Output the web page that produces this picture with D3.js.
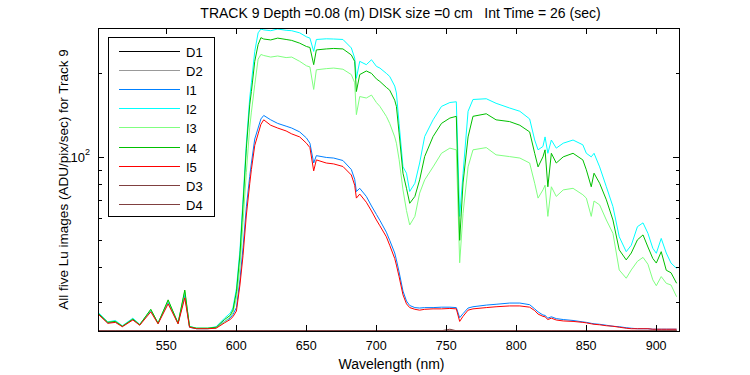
<!DOCTYPE html>
<html>
<head>
<meta charset="utf-8">
<script src="https://cdn.jsdelivr.net/npm/d3@7"></script>
<style>
body { margin:0; background:#fff; }
text { font-family: "Liberation Sans", Arial, sans-serif; }
</style>
</head>
<body>
<div id="chart"></div>
<script>
// size of SVG
var w = 750;
var h = 375;
// plot box, in pixels
var boxL = 98, boxR = 679, boxT = 28, boxB = 331;

// wavelength grid, nm (shared by every series)
var wavelength = [502, 508.6, 514, 519, 526.5, 531.4, 539.3, 544.5, 551.7, 558.8,
  563.6, 567, 572, 580, 586, 592, 596, 598, 600.5, 603,
  605.2, 607.6, 610, 611.2, 613.6, 616, 618, 620, 625, 630,
  636, 640, 645.7, 650.5, 653, 655.7, 657.6, 664.7, 670, 676.6,
  682.6, 685, 686.2, 688.6, 693.3, 697, 700.5, 703, 707.6, 710,
  713.6, 714.8, 716.7, 719.5, 722, 724.3, 728, 731.4, 735, 741,
  747, 753, 757.6, 760, 762.4, 766, 769.5, 779, 786, 795.7,
  803, 810, 813.6, 816, 819.5, 821, 823, 825.5, 829, 834,
  841, 848, 850.5, 854, 856, 860, 864.8, 869.5, 874, 879,
  882.6, 887, 891, 894.5, 898, 900.5, 904, 907.6, 911, 915];

// ADU/pix/sec
var I1 = [27.1, 25.2, 25.4, 24.5, 25.9, 24.8, 27.9, 25.1, 29.9, 25.1,
  31.8, 24.3, 24.0, 24.0, 24.2, 25.5, 26.2, 27.0, 28.6, 36,
  47, 66, 85, 95, 116, 127, 137, 141, 136, 132,
  129, 127, 123, 117, 112, 95, 101, 99.5, 99, 97,
  90, 83, 75, 77, 72, 66.5, 62, 59, 53.5, 50,
  45, 42.5, 38.5, 32.8, 30.2, 29.1, 28.6, 28.5, 28.6, 28.6,
  28.7, 28.7, 28.6, 26.3, 27.2, 28.5, 28.8, 29.2, 29.4, 29.7,
  29.7, 29.3, 28.3, 27.6, 26.9, 26.8, 26.2, 26.5, 26.1, 25.9,
  25.7, 25.4, 25.3, 25.1, 25.0, 24.9, 24.7, 24.5, 24.4, 24.2,
  24.1, 24.0, 24.0, 24.0, 23.9, 23.9, 23.9, 23.9, 23.9, 23.9];
var I2 = [27.4, 25.4, 25.7, 24.6, 26.2, 24.9, 28.0, 25.2, 30.2, 25.2,
  32.5, 24.5, 24.1, 24.1, 24.4, 26.2, 27.3, 28.5, 33.5, 46,
  70, 112, 163, 185, 240, 280, 289, 287, 285, 289,
  286, 285, 280, 271, 268, 240, 265, 266.5, 266, 265,
  247, 227, 192, 221, 215, 224, 212, 209, 200, 195,
  180, 170, 132, 92, 87.3, 75, 80.3, 95, 118.4, 136,
  152, 157, 158, 61, 87, 146, 161, 162, 156, 150,
  146, 137, 115, 106, 109, 118, 103, 115, 107.5, 112,
  115, 110.5, 103, 100, 103, 92, 78, 66.2, 51.5, 45.5,
  48, 56, 57.8, 53, 46.8, 44.9, 50.8, 45, 41.4, 39.6];
var I3 = [27.2, 25.3, 25.5, 24.5, 26.0, 24.8, 28.1, 25.1, 30.3, 25.1,
  32.8, 24.4, 24.1, 24.1, 24.2, 25.4, 26.5, 27.4, 31, 40,
  58, 88, 128, 145, 182, 225, 234, 232, 229, 231,
  228, 229, 221, 213, 211, 175, 206, 208, 209, 207,
  198, 185, 142, 165, 163, 167, 157, 152, 140, 132,
  118, 112, 98, 76, 64, 56.8, 61, 74, 82.6, 92,
  103, 107.5, 106, 41.5, 62.5, 92, 106, 108, 101.7, 100.2,
  99, 95, 80.3, 71, 76, 79, 61, 78, 72, 76,
  77, 73, 71, 61, 69.3, 67.1, 59.2, 53, 39.1, 36.5,
  39.1, 42, 43.4, 41, 36, 34.3, 37, 35, 34.5, 31.3];
var I4 = [27.2, 25.3, 25.5, 24.5, 26.0, 24.8, 28.2, 25.1, 30.5, 25.1,
  33.1, 24.4, 24.1, 24.1, 24.3, 25.9, 26.8, 28.0, 32.6, 44.3,
  67.1, 107.5, 154, 172, 221, 254, 269, 266, 264, 268,
  265, 263, 257, 250, 248, 215, 243, 245, 246, 245,
  233, 221, 172, 198, 204, 200, 191, 187, 178, 174,
  160, 152, 122, 87.3, 77, 68, 72, 82.6, 100.3, 118.4,
  132, 138, 140, 50, 80.5, 118, 140, 143, 136, 134,
  130, 123, 103, 92, 100, 106, 78, 103, 95, 100,
  103, 97.5, 89.8, 78, 87.3, 80.3, 70, 59.2, 46.2, 42.5,
  45, 50.2, 52.3, 47.3, 43, 41.4, 45.5, 39, 38.2, 35.0];
var I5 = [27.0, 25.1, 25.3, 24.4, 25.8, 24.7, 27.6, 25.0, 29.5, 25.0,
  31.0, 24.3, 24.0, 24.0, 24.1, 25.2, 25.9, 26.5, 27.8, 34.5,
  44, 61.7, 80, 90, 110, 121, 131, 136, 130, 127,
  124, 121, 118, 112, 108, 89, 97.5, 95, 94.3, 92.3,
  86, 79, 71, 73.4, 68.6, 63.8, 59.2, 56.4, 51.5, 48,
  43, 40.7, 37, 31.8, 29.5, 28.6, 28.2, 28.0, 28.2, 28.3,
  28.3, 28.4, 28.3, 25.5, 26.6, 28.0, 28.3, 28.6, 28.8, 29.0,
  29.0, 28.7, 27.9, 27.1, 26.6, 26.5, 25.9, 26.2, 25.8, 25.6,
  25.5, 25.3, 25.2, 25.0, 24.9, 24.8, 24.6, 24.5, 24.3, 24.1,
  24.0, 24.0, 24.0, 24.0, 23.9, 23.9, 23.9, 23.9, 23.9, 23.9];
// dark frames sit on the floor of the axis
var D1 = wavelength.map(function() { return 23.6; });
var D2 = wavelength.map(function() { return 23.6; });
var D3 = wavelength.map(function() { return 23.6; });
var D4 = wavelength.map(function(l) { return (l > 749 && l < 754) ? 23.9 : 23.6; });

var names = ["D1", "D2", "I1", "I2", "I3", "I4", "I5", "D3", "D4"];
var values = [D1, D2, I1, I2, I3, I4, I5, D3, D4];
var colors = ["#000000", "#999999", "#0080ff", "#00ffff", "#80ff80", "#00c000", "#ff0000", "#804040", "#804040"];

var xTicks = [550, 600, 650, 700, 750, 800, 850, 900];
var yMinor = [30, 40, 50, 60, 70, 80, 90, 200];
var yMajor = [100];

var title = "TRACK 9 Depth =0.08 (m) DISK size =0 cm   Int Time = 26 (sec)";
var xLabel = "Wavelength (nm)";
var yLabel = "All five Lu images (ADU/pix/sec) for Track 9";

var svg = d3.select("#chart").append("svg")
  .attr("width", w)
  .attr("height", h);

var x = d3.scaleLinear().domain([501.6, 916.7]).range([boxL, boxR]);
var y = d3.scaleLog().domain([23.55, 291.5]).range([boxB, boxT]);

svg.append("defs").append("clipPath").attr("id", "clip")
  .append("rect")
  .attr("x", boxL).attr("y", boxT)
  .attr("width", boxR - boxL).attr("height", boxB - boxT);

// series
var line = d3.line()
  .x(function(d) { return x(d[0]); })
  .y(function(d) { return y(d[1]); });

var g = svg.append("g").attr("clip-path", "url(#clip)");
for (var i = 0; i < names.length; i++) {
  var pts = wavelength.map(function(l, j) { return [l, values[i][j]]; });
  g.append("path")
    .attr("d", line(pts))
    .attr("fill", "none")
    .attr("stroke", colors[i])
    .attr("stroke-width", 1);
}

// axes, matlab style: ticks inside on all four sides
var xb = svg.append("g").attr("transform", "translate(0," + boxB + ")")
  .call(d3.axisBottom(x).tickValues(xTicks).tickSizeInner(-6).tickSizeOuter(0).tickPadding(10));
svg.append("g").attr("transform", "translate(0," + boxT + ")")
  .call(d3.axisTop(x).tickValues(xTicks).tickSizeInner(-6).tickSizeOuter(0).tickFormat(""));
svg.append("g").attr("transform", "translate(" + boxL + ",0)")
  .call(d3.axisLeft(y).tickValues(yMinor).tickSizeInner(-3.5).tickSizeOuter(0).tickFormat(""));
svg.append("g").attr("transform", "translate(" + boxL + ",0)")
  .call(d3.axisLeft(y).tickValues(yMajor).tickSizeInner(-6).tickSizeOuter(0).tickFormat(""));
svg.append("g").attr("transform", "translate(" + boxR + ",0)")
  .call(d3.axisRight(y).tickValues(yMinor).tickSizeInner(-3.5).tickSizeOuter(0).tickFormat(""));
svg.append("g").attr("transform", "translate(" + boxR + ",0)")
  .call(d3.axisRight(y).tickValues(yMajor).tickSizeInner(-6).tickSizeOuter(0).tickFormat(""));

svg.selectAll(".domain").remove();
svg.selectAll(".tick line").attr("stroke", "#000").attr("shape-rendering", "crispEdges");
xb.selectAll("text").attr("font-size", 12.5).attr("font-family", "Liberation Sans, Arial, sans-serif").attr("fill", "#000");

svg.append("rect")
  .attr("x", boxL).attr("y", boxT)
  .attr("width", boxR - boxL).attr("height", boxB - boxT)
  .attr("fill", "none").attr("stroke", "#000")
  .attr("shape-rendering", "crispEdges");

// 10^2 label
var lab = svg.append("text")
  .attr("x", boxL - 8).attr("y", y(100) + 5)
  .attr("text-anchor", "end")
  .attr("font-size", 13);
lab.append("tspan").text("10");
lab.append("tspan").attr("dy", -7).attr("font-size", 9).text("2");

// titles
svg.append("text")
  .attr("x", (boxL + boxR) / 2 + 12).attr("y", 18)
  .attr("text-anchor", "middle")
  .attr("font-size", 14)
  .style("white-space", "pre")
  .text(title);
svg.append("text")
  .attr("x", (boxL + boxR) / 2 + 3).attr("y", 369)
  .attr("text-anchor", "middle")
  .attr("font-size", 14)
  .text(xLabel);
svg.append("text")
  .attr("transform", "translate(68," + ((boxT + boxB) / 2) + ") rotate(-90)")
  .attr("text-anchor", "middle")
  .attr("font-size", 13.5)
  .text(yLabel);

// legend
var leg = svg.append("g");
leg.append("rect")
  .attr("x", 108.5).attr("y", 37.5)
  .attr("width", 106).attr("height", 179)
  .attr("fill", "#fff").attr("stroke", "#000");
names.forEach(function(n, i) {
  var ly = Math.round(51 + i * 19.1) + 0.5;
  leg.append("line")
    .attr("x1", 119).attr("x2", 180)
    .attr("y1", ly).attr("y2", ly)
    .attr("stroke", colors[i]).attr("stroke-width", 1);
  leg.append("text")
    .attr("x", 186).attr("y", ly + 5)
    .attr("font-size", 13)
    .text(n);
});
</script>
</body>
</html>
